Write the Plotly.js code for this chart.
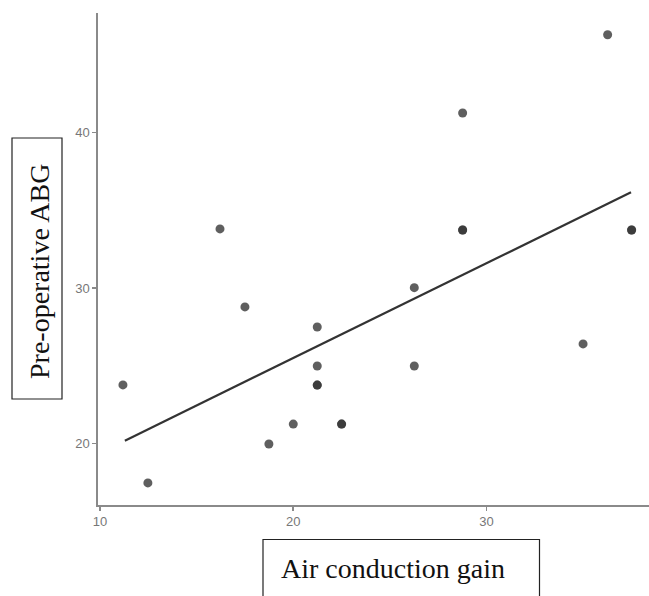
<!DOCTYPE html>
<html>
<head>
<meta charset="utf-8">
<script src="https://cdn.plot.ly/plotly-3.0.1.min.js"></script>
<style>html,body{margin:0;padding:0;background:#fff;}#chart{width:649px;height:596px;}</style>
</head>
<body>
<div id="chart"></div>
<script>
const airGain = [11.19, 12.48, 16.21, 17.50, 18.74, 20.00, 21.24, 21.24, 21.24, 21.24, 22.50, 22.50, 26.26, 26.26, 28.76, 28.76, 28.76, 34.99, 36.26, 37.50, 37.50];
const preABG  = [23.76, 17.45, 33.80, 28.78, 19.96, 21.24, 27.49, 24.98, 23.75, 23.75, 21.24, 21.24, 30.02, 24.98, 41.26, 33.73, 33.73, 26.40, 46.30, 33.73, 33.73];
const fitX = [11.29, 37.47];
const fitY = [20.17, 36.16];
const xTicks = [10, 20, 30];
const yTicks = [20, 30, 40];
const xLabel = 'Air conduction gain';
const yLabel = 'Pre-operative ABG';

const L = 98, R = 649, T = 13, B = 505, W = 649, H = 596;
const px = x => (x - L) / (R - L);
const py = y => (B - y) / (B - T);

const traces = [
  {x: fitX, y: fitY, mode: 'lines', type: 'scatter', line: {color: '#333333', width: 2.2}, hoverinfo: 'skip'},
  {x: airGain, y: preABG, mode: 'markers', type: 'scatter', marker: {size: 9, color: 'rgba(50,50,50,0.78)', line: {width: 0}}}
];

const axisCommon = {
  showline: true, linecolor: '#8a8a8a', linewidth: 1.6,
  ticks: 'outside', ticklen: 4, tickwidth: 1.6, tickcolor: '#8a8a8a',
  showgrid: false, zeroline: false,
  tickfont: {family: 'Liberation Sans, Arial, sans-serif', size: 13, color: '#777777'},
  tickmode: 'array'
};

const layout = {
  width: W, height: H,
  margin: {l: L, r: W - R, t: T, b: H - B, pad: 0},
  paper_bgcolor: '#ffffff', plot_bgcolor: '#ffffff',
  showlegend: false,
  xaxis: Object.assign({}, axisCommon, {range: [9.9, 38.4], tickvals: xTicks, ticktext: xTicks.map(String)}),
  yaxis: Object.assign({}, axisCommon, {range: [16.03, 47.7], tickvals: yTicks, ticktext: yTicks.map(String)}),
  shapes: [
    {type: 'rect', xref: 'paper', yref: 'paper', x0: px(12), x1: px(62), y0: py(399), y1: py(138), line: {color: '#222222', width: 1.2}, fillcolor: 'rgba(0,0,0,0)'},
    {type: 'rect', xref: 'paper', yref: 'paper', x0: px(263), x1: px(539.5), y0: py(610), y1: py(539.5), line: {color: '#222222', width: 1.2}, fillcolor: 'rgba(0,0,0,0)'}
  ],
  annotations: [
    {text: yLabel, xref: 'paper', yref: 'paper', x: px(39), y: py(272), xanchor: 'center', yanchor: 'middle', textangle: -90, showarrow: false,
     font: {family: 'Liberation Serif, Times New Roman, serif', size: 28, color: '#111111'}},
    {text: xLabel, xref: 'paper', yref: 'paper', x: px(393), y: py(568), xanchor: 'center', yanchor: 'middle', showarrow: false,
     font: {family: 'Liberation Serif, Times New Roman, serif', size: 28, color: '#111111'}}
  ]
};

Plotly.newPlot('chart', traces, layout, {displayModeBar: false, staticPlot: true});
</script>
</body>
</html>
